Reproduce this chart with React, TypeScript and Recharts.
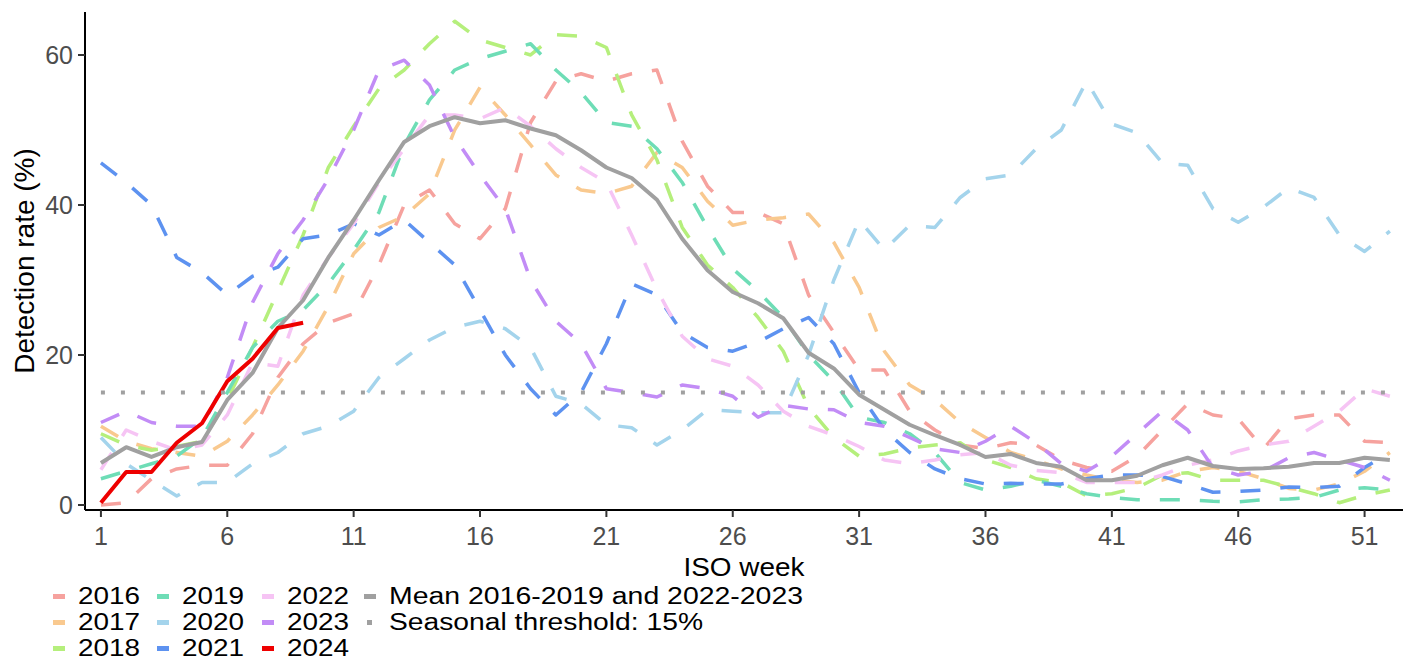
import React from 'react';
import { LineChart, Line, XAxis, YAxis, ReferenceLine } from 'recharts';

const weeks = [
  1, 2, 3, 4, 5, 6, 7, 8, 9, 10, 11, 12, 13, 14, 15, 16, 17, 18, 19, 20, 21, 22, 23, 24, 25, 26,
  27, 28, 29, 30, 31, 32, 33, 34, 35, 36, 37, 38, 39, 40, 41, 42, 43, 44, 45, 46, 47, 48, 49, 50, 51, 52,
];

const y2016 = [0, 0.3, 3.5, 4.8, 5.3, 5.3, 9.5, 17, 21.5, 24.3, 25.5, 32, 40, 42, 37.5, 35.5, 39.5, 51, 56.5, 57.5, 56.5, 57.5, 58, 48.5, 42.5, 39, 39, 37.5, 28, 23, 18, 18, 12.5, 10, 8, 7.5, 8.3, 8, 6, 5, 4.5, 6.5, 10, 13.5, 12, 11.5, 7.5, 11.5, 12, 12, 8.5, 8.3];
const y2017 = [10.5, 8.5, 7.5, 7, 6.5, 8.5, 12, 16, 20.5, 26.5, 33.5, 37, 38.5, 41.5, 50, 55.7, 52, 48, 44, 42, 41.5, 42.5, 47, 45, 40.5, 37.3, 38, 38.3, 38.8, 35, 29, 20.5, 16, 14, 11, 9, 7, 6, 4.8, 4, 3.3, 3, 3.3, 4.5, 5, 4.5, 3.5, 2.2, 2, 2.8, 4.5, 7];
const y2018 = [9.5, 8, 7.3, 7.8, 8.5, 14, 21, 28.5, 36, 45, 50.5, 55.5, 58, 61.5, 64.5, 62, 61, 60, 62.7, 62.5, 61, 52, 46, 37, 32, 29, 25, 20.5, 13, 9, 6.5, 6.8, 7.6, 8, 8.3, 6, 5, 3.5, 3, 1.2, 1.5, 2.3, 4, 4.3, 3.3, 3.3, 3.3, 2.4, 1.5, 0.3, 1.3, 2];
const y2019 = [3.5, 4.5, 5.5, 6.5, 9, 15, 21, 24.5, 26, 29.5, 34, 39, 48, 54, 58, 59.5, 60.5, 61.5, 58, 55, 51, 50.5, 47.5, 43, 37, 31.5, 28.5, 25, 20, 16.5, 11.7, 11, 9.5, 7, 3, 2, 2.5, 3.3, 2.5, 1.5, 1, 0.7, 0.7, 0.7, 0.5, 0.4, 0.7, 0.8, 1, 2, 2.3, 2];
const y2020 = [9, 5.5, 3.3, 1.2, 3, 3, 5.5, 7, 9.5, 10.5, 12.5, 17, 19.5, 22, 23.7, 24.5, 23.5, 21, 14.5, 13.5, 10.7, 10.3, 8, 10, 12.7, 12.5, 12.3, 12.3, 20, 30, 38, 34, 37.3, 37, 41, 43.5, 44, 47.5, 50, 56.5, 50.8, 49.6, 45.6, 45.3, 39.5, 37.7, 39.7, 42.3, 41, 36, 33.8, 36.5];
const y2021 = [45.6, 43, 40, 33, 31, 28, 30.5, 31.7, 35.5, 36, 37.5, 36, 38, 35, 32, 26, 20, 15.5, 12, 15, 21.5, 29.5, 28, 23, 21, 20.5, 21.7, 23.5, 25, 21.5, 15, 10, 7, 4.8, 3.5, 2.8, 2.9, 2.8, 2.8, 3.5, 4, 4, 3.8, 2.8, 1.7, 1.8, 2, 2.4, 2.3, 2.5, 5, 7];
const y2022 = [4.7, 10, 8.5, 7.3, 8, 12, 19, 18.5, 28, 33, 37.5, 43, 47.5, 52, 52, 51.5, 53, 50.5, 47.5, 45, 43, 36, 28.7, 22.5, 19.5, 18.5, 16, 12.5, 10.5, 9.3, 7.8, 6, 5.5, 6, 6.7, 7, 5.3, 4.6, 4.3, 3, 3, 3, 4, 5.3, 6, 7.2, 8, 8.5, 10.5, 12.5, 15.5, 14.5];
const y2023 = [11, 12.5, 11, 10.5, 10.5, 17, 27, 33.5, 38, 43.5, 50, 58, 59.3, 56, 49, 44, 39.5, 30, 24.5, 21.5, 15.5, 15, 14.4, 16, 15.5, 14.5, 11.7, 13.3, 12.8, 12.7, 11, 10.5, 9, 7.5, 7, 8.5, 10.5, 8.3, 5.5, 4.5, 6.5, 9.5, 12.5, 10, 5, 4, 4.5, 6.3, 7, 6, 5, 3.3];
const y2024 = [0.3, 4.4, 4.4, 8.3, 10.9, 16.5, 19.5, 23.6, 24.3];
const meanValues = [5.6, 7.7, 6.4, 7.7, 8.4, 14, 17.6, 23.6, 27.3, 33, 38, 43.3, 48.4, 50.5, 51.7, 50.9, 51.3, 50.2, 49.3, 47.3, 45, 43.6, 40.7, 35.5, 31.3, 28.4, 26.9, 24.9, 20.3, 18.2, 14.7, 12.7, 10.7, 9.3, 8, 6.4, 6.8, 5.6, 5.1, 3.3, 3.3, 3.9, 5.3, 6.3, 5.2, 4.8, 4.9, 5.1, 5.6, 5.6, 6.3, 6];

const threshold = 15;
const xTicks = [1, 6, 11, 16, 21, 26, 31, 36, 41, 46, 51];
const yTicks = [0, 20, 40, 60];

const years = [
  { key: 'y2016', label: '2016', color: '#F6A29E', values: y2016 },
  { key: 'y2017', label: '2017', color: '#F9C98F', values: y2017 },
  { key: 'y2018', label: '2018', color: '#B5EF7C', values: y2018 },
  { key: 'y2019', label: '2019', color: '#6EDDB6', values: y2019 },
  { key: 'y2020', label: '2020', color: '#A4D4EC', values: y2020 },
  { key: 'y2021', label: '2021', color: '#5D92F0', values: y2021 },
  { key: 'y2022', label: '2022', color: '#F6C4F4', values: y2022 },
  { key: 'y2023', label: '2023', color: '#C28CF6', values: y2023 },
];

const RED = '#EE0000';
const GREY = '#A0A0A0';
const FONT = '"Liberation Sans", Arial, sans-serif';

const data = weeks.map((w, i) => {
  const row: Record<string, number | null> = { week: w, mean: meanValues[i] };
  years.forEach(y => {
    row[y.key] = y.values[i];
  });
  row.y2024 = i < y2024.length ? y2024[i] : null;
  return row;
});

// legend layout: three rows, four columns like the ggplot legend
const legendCols = [
  { x: 53, items: [years[0], years[1], years[2]].map(y => ({ label: y.label, color: y.color, kind: 'dash', w: 62 })) },
  { x: 157, items: [years[3], years[4], years[5]].map(y => ({ label: y.label, color: y.color, kind: 'dash', w: 62 })) },
  {
    x: 262,
    items: [
      { label: years[6].label, color: years[6].color, kind: 'dash', w: 62 },
      { label: years[7].label, color: years[7].color, kind: 'dash', w: 62 },
      { label: '2024', color: RED, kind: 'dash', w: 62 },
    ],
  },
  {
    x: 364,
    items: [
      { label: 'Mean 2016-2019 and 2022-2023', color: GREY, kind: 'dash', w: 414 },
      { label: 'Seasonal threshold: 15%', color: GREY, kind: 'dot', w: 314 },
    ],
  },
];
const rowBaselines = [604, 630, 656];

export default function App() {
  return (
    <div style={{ position: 'absolute', left: 0, top: 0, width: 1411, height: 661, background: '#fff' }}>
      <LineChart
        width={1411}
        height={661}
        data={data}
        margin={{ top: 12, right: 8, left: 0, bottom: 111 }}
      >
        <XAxis
          dataKey="week"
          type="number"
          domain={[0.37, 52.52]}
          ticks={xTicks}
          allowDataOverflow
          height={40}
          tickSize={7}
          tickMargin={10}
          axisLine={{ stroke: '#000', strokeWidth: 2 }}
          tickLine={{ stroke: '#333', strokeWidth: 2 }}
          tick={{ fontSize: 25, fill: '#4D4D4D', fontFamily: FONT }}
        />
        <YAxis
          type="number"
          domain={[-0.67, 65.73]}
          ticks={yTicks}
          allowDataOverflow
          width={85}
          tickSize={7}
          tickMargin={5}
          axisLine={{ stroke: '#000', strokeWidth: 2 }}
          tickLine={{ stroke: '#333', strokeWidth: 2 }}
          tick={{ fontSize: 25, fill: '#4D4D4D', fontFamily: FONT }}
        />
        {years.map(y => (
          <Line
            key={y.key}
            dataKey={y.key}
            type="linear"
            stroke={y.color}
            strokeWidth={3.5}
            strokeDasharray="20 20"
            strokeLinejoin="round"
            dot={false}
            activeDot={false}
            isAnimationActive={false}
          />
        ))}
        <Line
          dataKey="mean"
          type="linear"
          stroke={GREY}
          strokeWidth={4}
          strokeLinejoin="round"
          dot={false}
          activeDot={false}
          isAnimationActive={false}
        />
        <Line
          dataKey="y2024"
          type="linear"
          stroke={RED}
          strokeWidth={4}
          strokeLinejoin="round"
          dot={false}
          activeDot={false}
          connectNulls={false}
          isAnimationActive={false}
        />
        <ReferenceLine
          segment={[{ x: 1, y: threshold }, { x: 52, y: threshold }]}
          stroke={GREY}
          strokeWidth={4}
          strokeDasharray="4 16"
        />
      </LineChart>

      <svg
        width={1411}
        height={661}
        style={{ position: 'absolute', left: 0, top: 0, pointerEvents: 'none' }}
      >
        <text
          x={744}
          y={576}
          textAnchor="middle"
          fontSize={26}
          fontFamily={FONT}
          fill="#000"
          textLength={121}
          lengthAdjust="spacingAndGlyphs"
        >
          ISO week
        </text>
        <text
          transform="translate(34, 261) rotate(-90)"
          textAnchor="middle"
          fontSize={28}
          fontFamily={FONT}
          fill="#000"
        >
          Detection rate (%)
        </text>
        {legendCols.map((col, ci) =>
          col.items.map((item, ri) => (
            <g key={`${ci}-${ri}`}>
              {item.kind === 'dash' ? (
                <rect x={col.x} y={rowBaselines[ri] - 10} width={12} height={5} fill={item.color} />
              ) : (
                <rect x={col.x + 3} y={rowBaselines[ri] - 10} width={5} height={5} fill={item.color} />
              )}
              <text
                x={col.x + 25}
                y={rowBaselines[ri]}
                fontSize={23}
                fontFamily={FONT}
                fill="#000"
                textLength={item.w}
                lengthAdjust="spacingAndGlyphs"
              >
                {item.label}
              </text>
            </g>
          ))
        )}
      </svg>
    </div>
  );
}
